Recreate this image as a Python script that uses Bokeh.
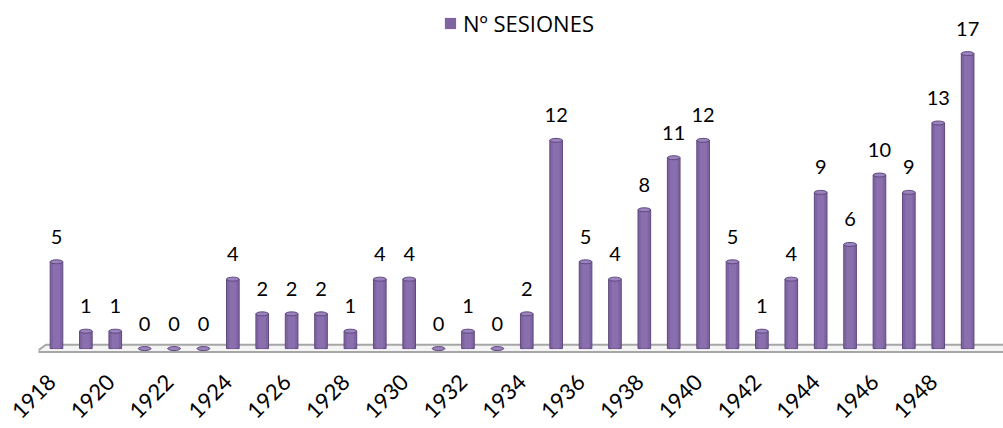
import math
from bokeh.plotting import figure
from bokeh.models import (ColumnDataSource, Legend, LegendItem, FixedTicker,
                          Range1d, LabelSet)
from bokeh.core.properties import value
from bokeh.embed import file_html
from bokeh.resources import INLINE

# ---- data ----
years = list(range(1918, 1950))
sessions = [5, 1, 1, 0, 0, 0, 4, 2, 2, 2, 1, 4, 4, 0, 1, 0, 2,
            12, 5, 4, 8, 11, 12, 5, 1, 4, 9, 6, 10, 9, 13, 17]
tick_years = [y for y in years if y % 2 == 0]
series_name = "Nº SESIONES"

idx = list(range(len(years)))
src = ColumnDataSource(dict(x=idx, top=sessions,
                            label=[str(v) for v in sessions]))

FONT = "Lato"
p = figure(width=1003, height=428, output_backend="svg", toolbar_location=None,
           x_range=Range1d(-0.612, 32.22), y_range=Range1d(-1.092, 20.06),
           min_border_left=38, min_border_right=0, min_border_top=0,
           min_border_bottom=60)
p.outline_line_color = None
p.xgrid.visible = False
p.ygrid.visible = False
p.yaxis.visible = False
p.background_fill_color = "white"
p.border_fill_color = "white"

# floor slab
p.patch([-0.7, -0.36, 40, 40], [-0.2, 0.22, 0.22, -0.2],
        fill_color="#f4f4f4", line_color="#a6a6a6", line_width=2)

# cylinder bars (layered shading)
base = p.vbar(x="x", top="top", bottom=0, width=0.43, source=src,
              fill_color="#8064a2", line_color=None)
p.vbar(x="x", top="top", bottom=0, width=0.43, source=src,
       fill_color=None, line_color="#5e4880", line_width=1)
p.vbar(x="x", top="top", bottom=0, width=0.24, source=src,
       fill_color="#8a6fae", line_color=None)
p.ellipse(x="x", y="top", width=0.43, height=4, height_units="screen",
          source=src, fill_color="#9a84bb", line_color="#5e4880", line_width=1)

labels = LabelSet(x="x", y="top", text="label", source=src, y_offset=18,
                  text_align="center", text_baseline="alphabetic",
                  text_font=value(FONT), text_font_size="20px",
                  text_color="#000000")
p.add_layout(labels)

# x axis (tick anchors nudged slightly left so rotated labels end at the bar)
tick_pos = [years.index(y) - 0.15 for y in tick_years]
p.xaxis.ticker = FixedTicker(ticks=tick_pos)
p.xaxis.major_label_overrides = {t: str(y) for t, y in zip(tick_pos, tick_years)}
p.xaxis.major_label_orientation = math.pi / 4
p.xaxis.axis_line_color = None
p.xaxis.major_tick_line_color = None
p.xaxis.minor_tick_line_color = None
p.xaxis.major_label_text_font = FONT
p.xaxis.major_label_text_font_size = "22px"
p.xaxis.major_label_text_color = "#000000"
p.xaxis.major_label_standoff = 5

legend = Legend(items=[LegendItem(label=series_name, renderers=[base])],
                location=(405, 329), orientation="horizontal",
                border_line_color=None, background_fill_alpha=0,
                padding=0, margin=0, spacing=0,
                glyph_width=14, glyph_height=14, label_standoff=6,
                label_text_font="Open Sans", label_text_font_size="22px",
                label_text_color="#000000")
p.add_layout(legend, "center")

open("out.html", "w").write(file_html(p, INLINE))
